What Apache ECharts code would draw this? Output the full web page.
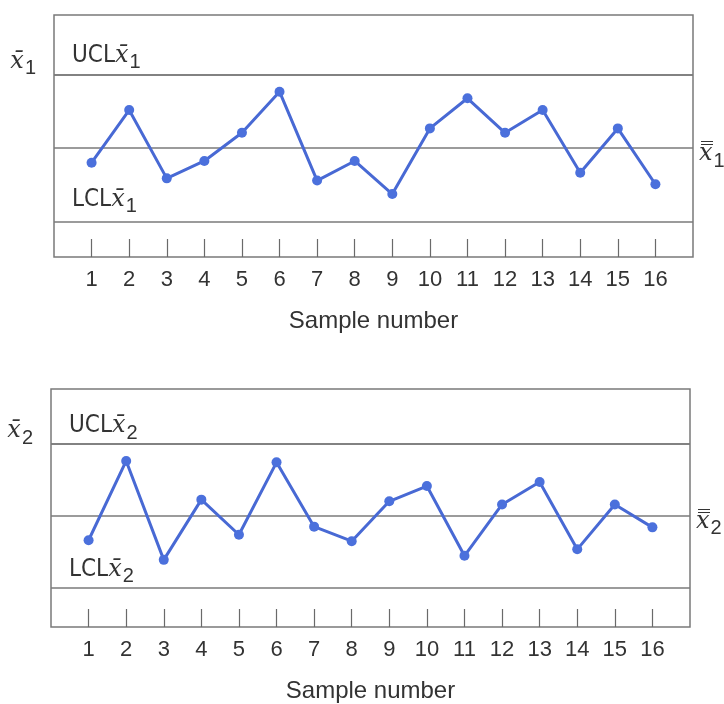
<!DOCTYPE html>
<html>
<head>
<meta charset="utf-8">
<script src="https://cdn.jsdelivr.net/npm/echarts@6/dist/echarts.min.js"></script>
<style>
  html, body { margin: 0; padding: 0; background: #ffffff; }
  #chart { width: 724px; height: 704px; }
</style>
</head>
<body>
<div id="chart"></div>
<script>
// Sample numbers along the horizontal axis
const sampleNumbers = [1, 2, 3, 4, 5, 6, 7, 8, 9, 10, 11, 12, 13, 14, 15, 16];

// Sample means, in sigma units around the grand mean
const xbar1 = [-0.60, 1.55, -1.24, -0.53, 0.62, 2.30, -1.33, -0.53, -1.88, 0.80, 2.03, 0.62, 1.55, -1.01, 0.80, -1.48];
const xbar2 = [-1.02, 2.30, -1.84, 0.68, -0.79, 2.24, -0.45, -1.06, 0.61, 1.25, -1.67, 0.48, 1.42, -1.40, 0.48, -0.48];

// Control limits (three-sigma) and centre line
const ucl = 3;
const centerLine = 0;
const lcl = -3;

const COND = "'DejaVu Sans Condensed', 'Liberation Sans Narrow', 'Liberation Sans', Arial, sans-serif";
const SANS = "'Liberation Sans', Arial, sans-serif";
const SERIF = "'DejaVu Serif', 'Liberation Serif', serif";
const TEXT = '#333333';
const RULE = '#7a7a7a';
const BLUE = '#4869d4';

const X_BAR = 'x\u0304';
const X_DBAR = 'x\u033F';

const richStyles = {
  t: { fontFamily: COND, fontSize: 24, color: TEXT },
  v: { fontFamily: SERIF, fontStyle: 'italic', fontSize: 24, color: TEXT },
  s: { fontFamily: SANS, fontSize: 20, color: TEXT, padding: [14, 0, 0, 1] }
};

// label offsets above the limit lines: [upper chart, lower chart]
const limitLabelGap = { ucl: [2, 1], lcl: [5, 1] };

function chartParts(idx, values, sub) {
  const xAxis = {
    type: 'value', gridIndex: idx, min: 0, max: 17,
    axisLine: { show: false, onZero: false },
    splitLine: { show: false },
    axisTick: {
      show: true, inside: true, length: 18, customValues: sampleNumbers,
      lineStyle: { color: '#6a6a6a', width: 1.2 }
    },
    axisLabel: {
      customValues: sampleNumbers, margin: 12,
      fontFamily: SANS, fontSize: 22, color: TEXT
    },
    name: 'Sample number', nameLocation: 'middle', nameGap: 52,
    nameTextStyle: { fontFamily: SANS, fontSize: 24, color: TEXT }
  };
  const yAxis = {
    type: 'value', gridIndex: idx,
    min: idx === 0 ? -4.45 : -4.65,
    max: idx === 0 ? 5.43 : 5.31,
    show: false
  };
  const lineStyle = { color: RULE, width: 1.5, type: 'solid' };
  const series = {
    type: 'line', xAxisIndex: idx, yAxisIndex: idx,
    data: sampleNumbers.map((n, i) => [n, values[i]]),
    symbol: 'circle', symbolSize: 10,
    lineStyle: { color: BLUE, width: 3 },
    itemStyle: { color: '#4b70dc' },
    z: 5,
    markLine: {
      silent: true, symbol: 'none', animation: false,
      lineStyle: lineStyle,
      data: [
        { yAxis: ucl, label: { position: 'insideStartTop', distance: [18, limitLabelGap.ucl[idx]],
          formatter: '{t|UCL}{v|' + X_BAR + '}{s|' + sub + '}', rich: richStyles } },
        { yAxis: centerLine, label: { position: 'end', distance: 6, padding: [12, 0, 0, 0],
          formatter: '{v|' + X_DBAR + '}{s|' + sub + '}', rich: richStyles } },
        { yAxis: lcl, label: { position: 'insideStartTop', distance: [18, limitLabelGap.lcl[idx]],
          formatter: '{t|LCL}{v|' + X_BAR + '}{s|' + sub + '}', rich: richStyles } },
        { yAxis: ucl, label: { position: 'start', distance: 18,
          formatter: '{v|' + X_BAR + '}{s|' + sub + '}', rich: richStyles, padding: [0, 0, 26, 0] } }
      ]
    }
  };
  return { xAxis, yAxis, series };
}

const upperChart = chartParts(0, xbar1, '1');
const lowerChart = chartParts(1, xbar2, '2');

const chart = echarts.init(document.getElementById('chart'), null, { renderer: 'canvas' });
chart.setOption({
  backgroundColor: '#ffffff',
  animation: false,
  grid: [
    { left: 54, top: 15, width: 639, height: 242, show: true, borderColor: RULE, borderWidth: 1.5, backgroundColor: 'transparent' },
    { left: 51, top: 389, width: 639, height: 244, show: true, borderColor: RULE, borderWidth: 1.5, backgroundColor: 'transparent' }
  ],
  xAxis: [upperChart.xAxis, lowerChart.xAxis],
  yAxis: [upperChart.yAxis, lowerChart.yAxis],
  series: [upperChart.series, lowerChart.series]
});
</script>
</body>
</html>
